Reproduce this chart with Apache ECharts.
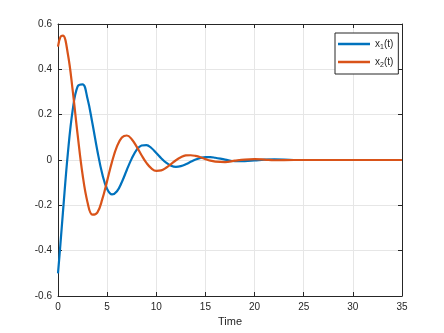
<!DOCTYPE html>
<html>
<head>
<meta charset="utf-8">
<script src="https://cdn.jsdelivr.net/npm/echarts@6/dist/echarts.min.js"></script>
<style>
  html, body { margin: 0; padding: 0; background: #fff; }
  #chart { width: 444px; height: 333px; }
</style>
</head>
<body>
<div id="chart"></div>
<script>
// time samples and the two state curves
const time = [0, 0.25, 0.5, 1, 1.5, 2, 2.5, 3, 3.5, 4, 4.5, 5, 5.5, 6, 6.5, 7, 7.5, 8, 8.5, 9, 9.5,
    10, 10.5, 11, 11.5, 12, 12.5, 13, 13.5, 14, 14.5, 15, 15.5, 16, 17, 18, 19, 20, 21, 22, 24, 27, 30, 35];
const x1 = [-0.5, -0.369, -0.232, 0.028, 0.222, 0.325, 0.334, 0.271, 0.162, 0.042, -0.061, -0.128, -0.152, -0.138, -0.097, -0.044,
    0.006, 0.045, 0.064, 0.066, 0.053, 0.031, 0.008, -0.012, -0.025, -0.030, -0.027, -0.019, -0.008, 0.002,
    0.009, 0.013, 0.013, 0.010, 0.002, -0.005, -0.005, -0.002, 0.002, 0.003, 0, 0, 0, 0];
const x2 = [0.5, 0.543, 0.549, 0.469, 0.305, 0.111, -0.064, -0.186, -0.241, -0.232, -0.174, -0.092, -0.007, 0.060, 0.099, 0.108,
    0.092, 0.059, 0.021, -0.013, -0.037, -0.048, -0.046, -0.034, -0.018, -0.001, 0.012, 0.020, 0.021, 0.018,
    0.012, 0.004, -0.003, -0.007, -0.009, -0.003, 0.002, 0.004, 0.002, -0.001, 0, 0, 0, 0];

const xTicks = [0, 5, 10, 15, 20, 25, 30, 35];

const axisCol = '#262626';
const gridCol = '#e6e6e6';

const chart = echarts.init(document.getElementById('chart'));

const pairs = (ys) => time.map((t, i) => [t, ys[i]]);

const boxAxis = {
    type: 'value',
    axisLine: { show: true, onZero: false, lineStyle: { color: axisCol, width: 1 } },
    axisTick: { show: true, inside: true, length: 4, lineStyle: { color: axisCol } }
};

chart.setOption({
    animation: false,
    textStyle: { fontFamily: 'Liberation Sans, Arial, sans-serif' },
    grid: { left: 58, right: 42, top: 24, bottom: 37 },
    legend: {
        orient: 'vertical',
        left: 335,
        top: 33,
        padding: [6, 5, 5, 3],
        icon: 'rect',
        itemWidth: 32,
        itemHeight: 2.5,
        itemGap: 6,
        backgroundColor: '#fff',
        borderColor: axisCol,
        borderWidth: 1,
        borderRadius: 0,
        textStyle: {
            color: axisCol,
            fontSize: 10,
            rich: {
                n: { fontSize: 10, color: axisCol },
                s: { fontSize: 7, color: axisCol, padding: [7, 0, 0, 0] }
            }
        },
        formatter: (name) => '{n|x}{s|' + name.charAt(1) + '}{n|(t)}',
        data: ['x1(t)', 'x2(t)']
    },
    xAxis: [Object.assign({}, boxAxis, {
        min: 0, max: 35, interval: 5,
        name: 'Time',
        nameLocation: 'middle',
        nameGap: 20,
        nameTextStyle: { color: axisCol, fontSize: 11 },
        axisLabel: { color: axisCol, fontSize: 10, margin: 6,
            formatter: (v) => xTicks.includes(v) ? String(v) : '' },
        splitLine: { show: true, lineStyle: { color: gridCol, width: 1 } }
    }), Object.assign({}, boxAxis, {
        position: 'top',
        min: 0, max: 35, interval: 5,
        axisLabel: { show: false },
        splitLine: { show: false }
    })],
    yAxis: [Object.assign({}, boxAxis, {
        min: -0.6, max: 0.6, interval: 0.2,
        axisLabel: { color: axisCol, fontSize: 10, margin: 6,
            formatter: (v) => String(Math.round(v * 10) / 10) },
        splitLine: { show: true, lineStyle: { color: gridCol, width: 1 } }
    }), Object.assign({}, boxAxis, {
        position: 'right',
        min: -0.6, max: 0.6, interval: 0.2,
        axisLabel: { show: false },
        splitLine: { show: false }
    })],
    series: [{
        name: 'x1(t)',
        type: 'line',
        data: pairs(x1),
        smooth: 0.4,
        symbol: 'none',
        lineStyle: { color: '#0072BD', width: 2.2 },
        itemStyle: { color: '#0072BD' }
    }, {
        name: 'x2(t)',
        type: 'line',
        data: pairs(x2),
        smooth: 0.4,
        symbol: 'none',
        lineStyle: { color: '#D95319', width: 2.2 },
        itemStyle: { color: '#D95319' }
    }]
});
</script>
</body>
</html>
